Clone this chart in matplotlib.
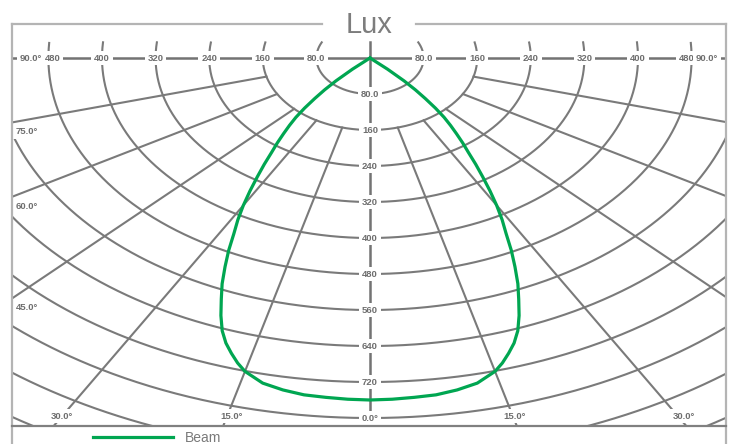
import numpy as np
import matplotlib
matplotlib.use("Agg")
import matplotlib.pyplot as plt
from matplotlib.lines import Line2D

plt.rcParams['font.family'] = ['Liberation Sans', 'DejaVu Sans']

# grid of the diagram (lux rings and angle spokes)
ring_lux = [80, 160, 240, 320, 400, 480, 560, 640, 720, 800, 880, 960]
top_lux = [80, 160, 240, 320, 400, 480]
top_labels = ["80.0", "160", "240", "320", "400", "480"]
side_lux = [80, 160, 240, 320, 400, 480, 560, 640, 720]
side_labels = ["80.0", "160", "240", "320", "400", "480", "560", "640", "720"]
spoke_deg = [15, 30, 45, 60, 75]
left_angle_deg = [75, 60, 45]
bottom_angle_deg = [30, 15]

# beam curve (symmetric about 0 deg)
beam_deg = [0, 2.5, 5, 7.5, 10, 12.5, 15, 16.25, 17.5, 18.75, 20, 21.25, 22.5, 23.75,
            25, 26.25, 27.5, 28.75, 30, 31.25, 32.5, 33.75, 35, 36.25, 37.5, 38.75,
            40, 41.25, 42.5, 43.75, 45, 46.5, 48]
beam_lux = [760, 759, 757, 755, 749, 740, 721, 706, 688, 669, 645, 614, 580, 548,
            512, 477, 440, 410, 378, 345, 313, 284, 256, 234, 212, 192,
            172, 148, 122, 98, 72, 36, 0]

W, H = 733, 444
cx, cy = 370, 58          # centre of the diagram in pixels
sx, sy = 0.67, 0.45       # pixels per lux, horizontal / vertical
grid_col = '#7a7a7a'
text_col = '#6e6e6e'
green = '#00a651'


def px(x, y):
    return x / W, 1 - y / H


fig = plt.figure(figsize=(W / 100, H / 100), dpi=100)
ax = fig.add_axes([12 / W, (H - 426) / H, 714 / W, 402 / H])
xmin, xmax = -(cx - 12) / sx, (726 - cx) / sx
ymin, ymax = -(426 - cy) / sy, (cy - 24) / sy
ax.set_xlim(xmin, xmax)
ax.set_ylim(ymin, ymax)
ax.axis('off')

# rings, cut a little above the 90 deg axis so they show as ticks
t = np.linspace(0, 2 * np.pi, 1441)
for r in ring_lux:
    x = r * np.sin(t)
    y = -r * np.cos(t)
    y = np.where(y > 35, np.nan, y)
    ax.plot(x, y, color=grid_col, lw=1.5, zorder=1)

# spokes start at the 160 ring
for d in spoke_deg:
    th = np.radians(d)
    rr = np.array([160, 3000])
    for s in (-1, 1):
        ax.plot(s * rr * np.sin(th), -rr * np.cos(th), color=grid_col, lw=1.5, zorder=1)

# main axes
ax.plot([xmin, xmax], [0, 0], color='#737373', lw=1.8, zorder=2)
ax.plot([0, 0], [35, ymin], color='#737373', lw=1.8, zorder=2)

box = dict(boxstyle='square,pad=0.3', fc='white', ec='none')
lab = dict(fontsize=6.8, fontweight='bold', color=text_col, zorder=4, bbox=box)

for r, s in zip(top_lux, top_labels):
    shift = 4 if r == 480 else 0
    ax.annotate(s, xy=(-r, 0), xytext=(shift, 0), textcoords='offset pixels',
                ha='center', va='center', **lab)
    shift = -5 if r == 480 else 0
    ax.annotate(s, xy=(r, 0), xytext=(shift, 0), textcoords='offset pixels',
                ha='center', va='center', **lab)

for r, s in zip(side_lux, side_labels):
    ax.text(0, -r, s, ha='center', va='center', **lab)
ax.text(0, -800, "0.0\u00b0", ha='center', va='center', **lab)

ax.annotate("90.0\u00b0", xy=(xmin, 0), xytext=(8, 0), textcoords='offset pixels',
            ha='left', va='center', **lab)
ax.annotate("90.0\u00b0", xy=(xmax, 0), xytext=(-8, 0), textcoords='offset pixels',
            ha='right', va='center', **lab)

for d in left_angle_deg:
    yy = xmin / np.tan(np.radians(d))
    ax.annotate(f"{d:.1f}\u00b0", xy=(xmin, yy), xytext=(4, -5), textcoords='offset pixels',
                ha='left', va='top', **lab)

for d in bottom_angle_deg:
    xx = -ymin * np.tan(np.radians(d))
    ax.annotate(f"{d:.1f}\u00b0", xy=(-xx, ymin), xytext=(8, 10), textcoords='offset pixels',
                ha='center', va='center', **lab)
    ax.annotate(f"{d:.1f}\u00b0", xy=(xx, ymin), xytext=(-2, 10), textcoords='offset pixels',
                ha='center', va='center', **lab)

# beam curve
th = np.radians(np.concatenate([-np.array(beam_deg[::-1]), np.array(beam_deg[1:])]))
rb = np.concatenate([np.array(beam_lux[::-1]), np.array(beam_lux[1:])])
ax.plot(rb * np.sin(th), -rb * np.cos(th), color=green, lw=2.3, zorder=5,
        solid_joinstyle='round')

# frame round the chart
frame = '#b4b4b4'
for (x0, y0), (x1, y1) in [((12, 24), (322, 24)), ((416, 24), (726, 24)),
                           ((12, 24), (12, 444)), ((726, 24), (726, 444))]:
    a, b = px(x0, y0), px(x1, y1)
    fig.add_artist(Line2D([a[0], b[0]], [a[1], b[1]], color=frame, lw=1.6))
a, b = px(12, 426), px(726, 426)
fig.add_artist(Line2D([a[0], b[0]], [a[1], b[1]], color='#808080', lw=1.6))

fig.text(*px(369, 33), "Lux", ha='center', va='baseline', fontsize=21, color='#7d7d7d')

# legend
a, b = px(93, 437), px(173, 437)
fig.add_artist(Line2D([a[0], b[0]], [a[1], b[1]], color=green, lw=2.3))
fig.text(*px(185, 442), "Beam", ha='left', va='baseline', fontsize=10, color='#7a7a7a')

fig.savefig('out.png', dpi=100)
